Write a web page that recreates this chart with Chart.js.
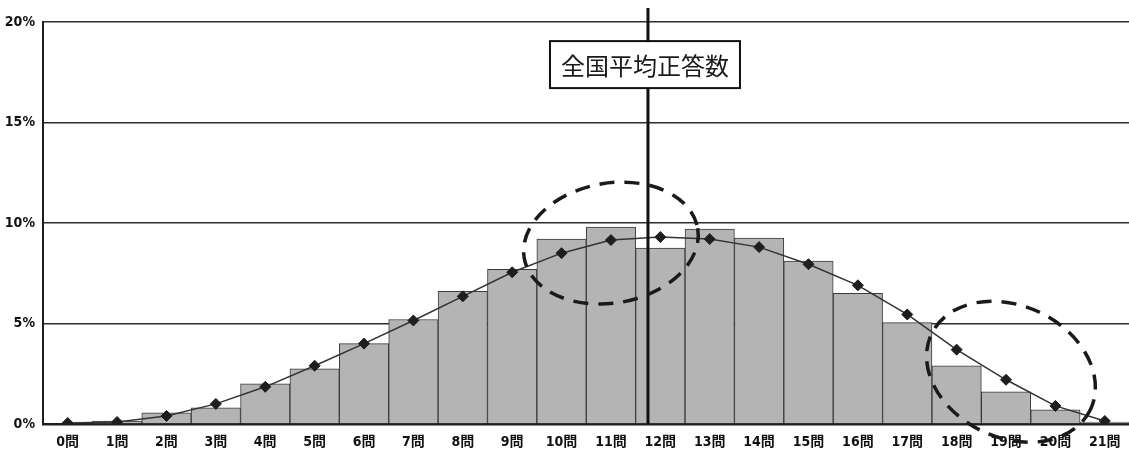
<!DOCTYPE html>
<html>
<head>
<meta charset="utf-8">
<script src="https://cdn.jsdelivr.net/npm/chart.js@4/dist/chart.umd.min.js"></script>
<style>
  html, body { margin: 0; padding: 0; background: #fff; overflow: hidden; width: 1129px; height: 452px; }
  #wrap { width: 1129px; height: 452px; overflow: hidden; position: relative; }
  #c { display: block; position: absolute; left: 0; top: 0; }
</style>
</head>
<body>
<div id="wrap"><canvas id="c" width="1136" height="452"></canvas></div>
<script>
// Number of correct answers (0–21問)
const categories = ['0問','1問','2問','3問','4問','5問','6問','7問','8問','9問','10問',
  '11問','12問','13問','14問','15問','16問','17問','18問','19問','20問','21問'];

// Share of students per score, this school (bars), in %
const schoolShare = [0.0, 0.15, 0.55, 0.8, 2.0, 2.75, 4.0, 5.2, 6.6, 7.7, 9.2,
  9.8, 8.75, 9.7, 9.25, 8.1, 6.5, 5.05, 2.9, 1.6, 0.7, 0.1];

// Share of students per score, nationwide (line), in %
const nationalShare = [0.05, 0.1, 0.4, 1.0, 1.85, 2.9, 4.0, 5.15, 6.35, 7.55, 8.5,
  9.15, 9.3, 9.2, 8.8, 7.95, 6.9, 5.45, 3.7, 2.2, 0.9, 0.15];

// Value-axis ticks, in %
const yTicks = [0, 5, 10, 15, 20];

// Nationwide average number of correct answers
const nationalAverage = 11.75;
const averageLabel = '全国平均正答数';

const tickFont = { family: "'Liberation Sans Narrow', 'DejaVu Sans Condensed', 'Noto Sans CJK JP'", size: 14, weight: 'bold' };

// Reference line, its caption box and the two dashed highlight ellipses
const overlayPlugin = {
  id: 'overlay',
  afterDatasetsDraw(chart) {
    const { ctx, chartArea, scales: { x, y } } = chart;
    ctx.save();

    // vertical line at the national average
    const ax = x.getPixelForValue(nationalAverage);
    ctx.strokeStyle = '#111';
    ctx.lineWidth = 3;
    ctx.beginPath();
    ctx.moveTo(ax, chartArea.top - 14);
    ctx.lineTo(ax, chartArea.bottom);
    ctx.stroke();

    // caption box
    ctx.font = "24px 'Noto Sans CJK JP'";
    const tw = ctx.measureText(averageLabel).width;
    const bw = tw + 22, bh = 47;
    const bx = ax - bw / 2 - 3;
    const by = y.getPixelForValue(19.05);
    ctx.fillStyle = '#fff';
    ctx.fillRect(bx, by, bw, bh);
    ctx.lineWidth = 2;
    ctx.strokeRect(bx, by, bw, bh);
    ctx.fillStyle = '#1a1a1a';
    ctx.textAlign = 'center';
    ctx.textBaseline = 'middle';
    ctx.fillText(averageLabel, bx + bw / 2, by + bh / 2 + 1);

    // dashed ellipses around the peak and the upper tail
    const rings = [
      { cx: 11.0, cy: 9.0, rx: 88, ry: 60, rot: -0.17 },
      { cx: 19.1, cy: 2.6, rx: 88, ry: 66, rot: 0.44 }
    ];
    ctx.setLineDash([15, 10]);
    ctx.lineWidth = 3.5;
    ctx.strokeStyle = '#1a1a1a';
    rings.forEach(r => {
      ctx.beginPath();
      ctx.ellipse(x.getPixelForValue(r.cx), y.getPixelForValue(r.cy), r.rx, r.ry, r.rot, 0, Math.PI * 2);
      ctx.stroke();
    });
    ctx.restore();
  }
};

new Chart(document.getElementById('c'), {
  data: {
    labels: categories,
    datasets: [
      {
        type: 'line',
        data: nationalShare,
        order: 0,
        borderColor: '#333',
        borderWidth: 1.5,
        tension: 0,
        pointStyle: 'rectRot',
        pointRadius: 5.5,
        pointBackgroundColor: '#1e1e1e',
        pointBorderColor: '#1e1e1e',
        pointBorderWidth: 1
      },
      {
        type: 'bar',
        data: schoolShare,
        order: 1,
        backgroundColor: '#b4b4b4',
        borderColor: '#3a3a3a',
        borderWidth: 1,
        categoryPercentage: 1.0,
        barPercentage: 1.0
      }
    ]
  },
  options: {
    responsive: false,
    animation: false,
    layout: { padding: { top: 22, right: 2, left: 0, bottom: 0 } },
    plugins: { legend: { display: false }, tooltip: { enabled: false } },
    scales: {
      x: {
        grid: { display: false, drawTicks: false },
        border: { display: true, color: '#1e1e1e', width: 2.5 },
        ticks: { color: '#111', font: tickFont, padding: 10, maxRotation: 0, autoSkip: false },
        afterFit(s) { s.height = 28; }
      },
      y: {
        min: 0,
        max: 20,
        afterBuildTicks(s) { s.ticks = yTicks.map(v => ({ value: v })); },
        grid: { color: '#2e2e2e', lineWidth: 1.5, drawTicks: false },
        border: { display: true, color: '#1e1e1e', width: 2 },
        ticks: { color: '#111', font: tickFont, padding: 8, callback: v => v + '%' },
        afterFit(s) { s.width = 43; }
      }
    }
  },
  plugins: [overlayPlugin]
});
</script>
</body>
</html>
